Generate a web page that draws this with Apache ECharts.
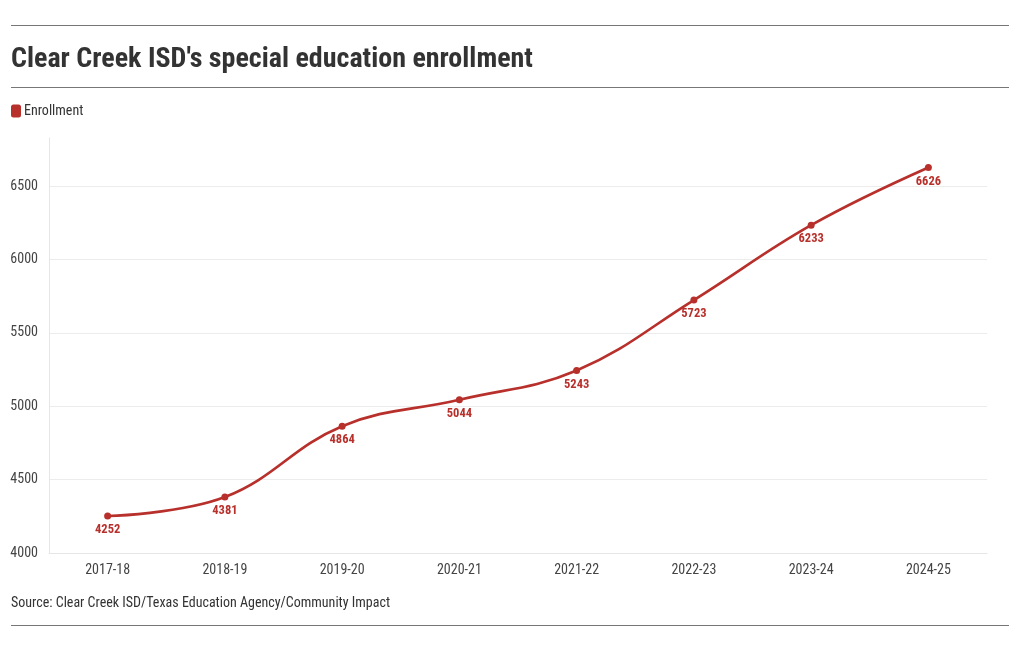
<!DOCTYPE html>
<html>
<head>
<meta charset="utf-8">
<script src="https://cdn.jsdelivr.net/npm/echarts@6/dist/echarts.min.js"></script>
<style>
html,body{margin:0;padding:0;background:#fff;}
#chart{width:1020px;height:650px;}
</style>
</head>
<body>
<div id="chart"></div>
<script>
const categories = ['2017-18','2018-19','2019-20','2020-21','2021-22','2022-23','2023-24','2024-25'];
const enrollment = [4252, 4381, 4864, 5044, 5243, 5723, 6233, 6626];
const seriesName = 'Enrollment';
const titleText = "Clear Creek ISD's special education enrollment";
const sourceText = 'Source: Clear Creek ISD/Texas Education Agency/Community Impact';

const FONT = '"Roboto Condensed", "Liberation Sans Narrow", "DejaVu Sans Condensed", Roboto, sans-serif';
const RED = '#b8302b';

const chart = echarts.init(document.getElementById('chart'), null, {renderer: 'canvas'});
chart.setOption({
  animation: false,
  backgroundColor: '#fff',
  textStyle: {fontFamily: FONT},
  title: {
    text: titleText,
    left: 11, top: 46,
    padding: 0,
    textStyle: {fontFamily: FONT, fontSize: 28, fontWeight: 'bold', color: '#333'}
  },
  legend: {
    left: 11, top: 104, padding: 0,
    itemWidth: 10, itemHeight: 13, itemGap: 3,
    icon: 'roundRect',
    data: [{name: seriesName, itemStyle: {color: RED}}],
    textStyle: {fontFamily: FONT, fontSize: 14, color: '#333', padding: [0,0,0,-2]}
  },
  graphic: [
    {type: 'line', shape: {x1: 11, y1: 25.5, x2: 1009, y2: 25.5}, style: {stroke: '#777', lineWidth: 1}},
    {type: 'line', shape: {x1: 11, y1: 87.5, x2: 1009, y2: 87.5}, style: {stroke: '#777', lineWidth: 1}},
    {type: 'line', shape: {x1: 11, y1: 625.5, x2: 1009, y2: 625.5}, style: {stroke: '#777', lineWidth: 1}},
    {type: 'text', left: 11, top: 596, style: {text: sourceText, font: '14px ' + FONT, fill: '#333'}}
  ],
  grid: {left: 49, right: 33, top: 138, bottom: 97, containLabel: false},
  xAxis: {
    type: 'category',
    data: categories,
    boundaryGap: true,
    axisLine: {show: true, lineStyle: {color: '#e6e6e6'}},
    axisTick: {show: false},
    axisLabel: {fontFamily: FONT, fontSize: 14, color: '#444', margin: 10},
    splitLine: {show: false}
  },
  yAxis: {
    type: 'value',
    min: 4000, max: 6827, interval: 500,
    axisLine: {show: true, lineStyle: {color: '#e6e6e6'}},
    axisTick: {show: false},
    axisLabel: {fontFamily: FONT, fontSize: 14, color: '#444', margin: 11, showMaxLabel: false,
      formatter: v => String(v)},
    splitLine: {show: true, showMaxLine: false, lineStyle: {color: '#ececec'}}
  },
  series: [{
    name: seriesName,
    type: 'line',
    data: enrollment,
    smooth: 0.4,
    symbol: 'circle',
    symbolSize: 7,
    color: RED,
    lineStyle: {width: 2.7, color: RED},
    itemStyle: {color: RED},
    label: {
      show: true, position: 'bottom', distance: 4,
      fontFamily: FONT, fontSize: 12.5, fontWeight: 'bold', color: RED
    }
  }]
});
</script>
</body>
</html>
